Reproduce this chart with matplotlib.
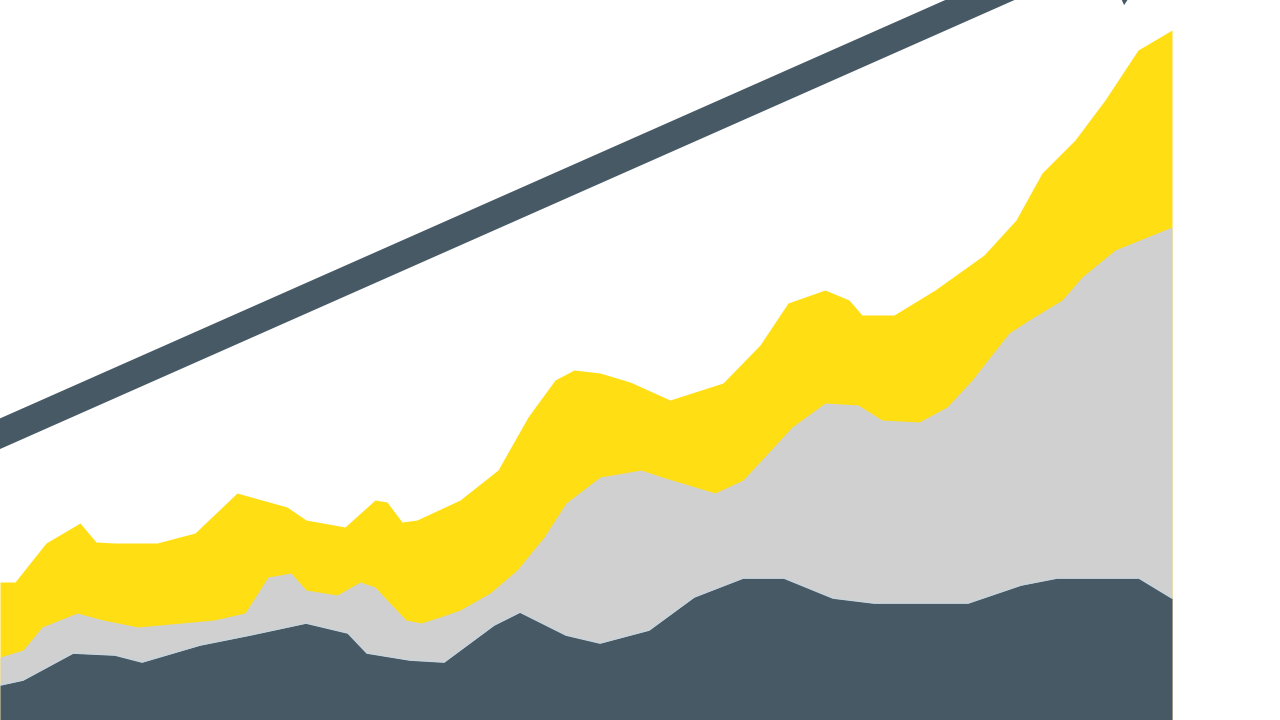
import matplotlib
matplotlib.use("Agg")
import matplotlib.pyplot as plt

# Cumulative stacked totals (height from bottom, in chart units)
dark_x = [0, 23, 73, 115, 142, 200, 250, 306, 348, 367, 410, 444, 494, 520, 566, 600,
          649, 694, 743, 784, 833, 874, 968, 1021, 1057, 1139, 1172]
dark_top = [35, 40, 67, 65, 58, 75, 85, 97, 87, 67, 60, 58, 95, 108, 85, 77,
            90, 123, 142, 142, 122, 117, 117, 135, 142, 142, 122]

gray_x = [0, 23, 42, 77, 103, 138, 214, 245, 268, 291, 306, 337, 360, 375, 387, 406,
          421, 440, 460, 490, 517, 544, 566, 600, 641, 662, 715, 743, 768, 792, 825,
          858, 882, 919, 947, 972, 1009, 1029, 1062, 1082, 1115, 1172]
gray_top = [63, 70, 93, 107, 100, 93, 100, 107, 143, 147, 130, 125, 138, 133, 120, 100,
            97, 103, 110, 127, 150, 183, 217, 243, 250, 243, 227, 240, 267, 293, 317,
            315, 300, 298, 313, 340, 387, 400, 420, 443, 470, 493]

yellow_x = [0, 15, 46, 80, 96, 115, 157, 195, 237, 287, 306, 345, 375, 387, 402, 417,
            460, 498, 528, 555, 574, 600, 630, 670, 723, 760, 788, 825, 849, 862, 894,
            935, 984, 1016, 1042, 1075, 1105, 1138, 1172]
yellow_top = [138, 138, 177, 197, 178, 177, 177, 187, 227, 213, 200, 193, 220, 218, 198, 200,
              220, 250, 303, 340, 350, 347, 338, 320, 337, 375, 417, 430, 420, 405, 405,
              430, 465, 500, 547, 580, 620, 670, 690]

# Trend arrow (start point, end at head tip)
arrow_start = (-100, 242)
arrow_end = (1190, 813)

YELLOW = "#FFDF14"
GRAY = "#D0D0D0"
DARK = "#465965"

fig = plt.figure(figsize=(12.8, 7.2), dpi=100)
ax = fig.add_axes([0, 0, 1, 1])
ax.set_xlim(0, 1280)
ax.set_ylim(0, 720)
ax.axis("off")

ax.fill_between(yellow_x, 0, yellow_top, color=YELLOW, linewidth=0)
ax.fill_between(gray_x, 0, gray_top, color=GRAY, linewidth=0)
ax.fill_between(dark_x, 0, dark_top, color=DARK, linewidth=0)
ax.plot(dark_x, dark_top, color="#C9D3DA", linewidth=1.2)

ax.arrow(arrow_start[0], arrow_start[1],
         arrow_end[0] - arrow_start[0], arrow_end[1] - arrow_start[1],
         width=28, head_width=126, head_length=100, length_includes_head=True,
         color=DARK, linewidth=0, clip_on=True)

fig.savefig("out.png", dpi=100)
